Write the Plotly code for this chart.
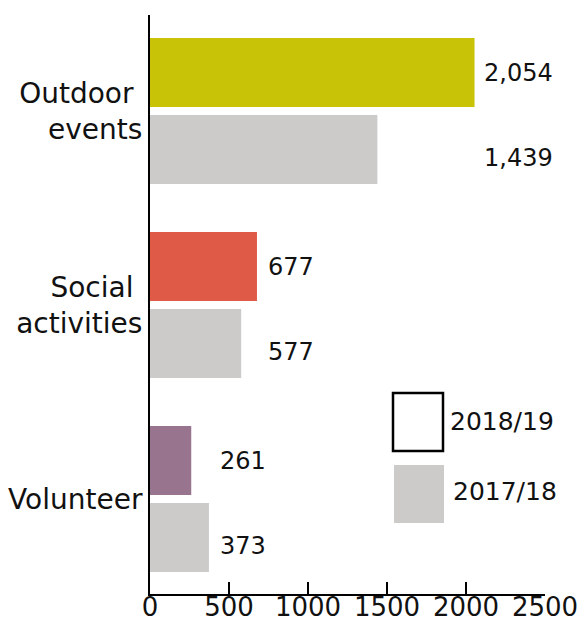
import plotly.graph_objects as go

# Participation by activity type, two reporting years
categories = ["Outdoor\u00a0<br>events", "Social\u00a0<br>activities", "Volunteer"]
values_2018_19 = [2054, 677, 261]
values_2017_18 = [1439, 577, 373]
series_names = ["2018/19", "2017/18"]
x_ticks = [0, 500, 1000, 1500, 2000, 2500]

current_colors = ["#C8C306", "#E05A48", "#98748F"]
prior_color = "#CCCBC9"
FONT = "DejaVu Sans"

fig = go.Figure()
fig.add_trace(go.Bar(
    y=categories, x=values_2018_19, orientation="h", name=series_names[0],
    marker=dict(color=current_colors, line=dict(width=0)), showlegend=False,
))
fig.add_trace(go.Bar(
    y=categories, x=values_2017_18, orientation="h", name=series_names[1],
    marker=dict(color=prior_color, line=dict(width=0)), showlegend=False,
))

# Value labels: right-aligned just past the longer bar of each pair
for cat, cur, prev in zip(categories, values_2018_19, values_2017_18):
    end = max(cur, prev)
    for val, dy in ((cur, 38), (prev, -47)):
        txt = f"{val:,}"
        fig.add_annotation(
            x=end, y=cat, xref="x", yref="y", text=txt, showarrow=False,
            xanchor="right", yanchor="middle",
            xshift=59 + 10.5 * (len(txt) - 3), yshift=dy,
            font=dict(family=FONT, size=24, color="#111111"),
        )

# Large legend swatches drawn as shapes
fig.add_shape(type="rect", xref="paper", yref="paper",
              x0=(393 - 150) / 395, x1=(443 - 150) / 395,
              y0=(594 - 451) / 579, y1=(594 - 393) / 579,
              line=dict(color="black", width=2.5), fillcolor="white")
fig.add_shape(type="rect", xref="paper", yref="paper",
              x0=(394 - 150) / 395, x1=(444 - 150) / 395,
              y0=(594 - 523) / 579, y1=(594 - 465) / 579,
              line=dict(width=0), fillcolor=prior_color)
for name, xl, yc in ((series_names[0], 448, 421), (series_names[1], 451, 491)):
    fig.add_annotation(
        x=(xl - 150) / 395, y=(594 - yc) / 579, xref="paper", yref="paper",
        text=name, showarrow=False, xanchor="left", yanchor="middle",
        font=dict(family=FONT, size=25, color="#111111"),
    )

fig.update_layout(
    width=583, height=621,
    margin=dict(l=150, r=38, t=15, b=27, autoexpand=False),
    paper_bgcolor="white", plot_bgcolor="white",
    barmode="group", bargap=0.206, bargroupgap=0.104,
    font=dict(family=FONT, color="#111111"),
)
fig.update_xaxes(
    range=[0, 2500], tickvals=x_ticks, ticktext=[str(t) for t in x_ticks],
    showgrid=False, zeroline=False, showline=True, linecolor="black", linewidth=2,
    ticks="inside", ticklen=12, tickwidth=2, tickcolor="black",
    tickfont=dict(family=FONT, size=26, color="#111111"), automargin=False,
    ticklabelstandoff=-11,
)
fig.update_yaxes(
    type="category", range=[2.49, -0.495],
    showgrid=False, zeroline=False, showline=True, linecolor="black", linewidth=2,
    ticks="", tickfont=dict(family=FONT, size=28, color="#111111"),
    ticklabelstandoff=0, automargin=False,
)

fig.write_html("out.html")
